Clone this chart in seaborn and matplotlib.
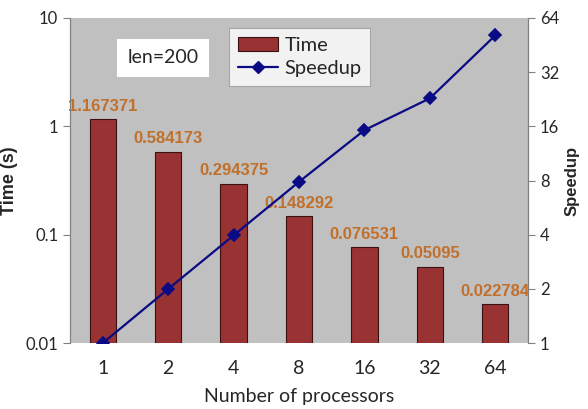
import numpy as np
import pandas as pd
import matplotlib
matplotlib.use("Agg")
import matplotlib.pyplot as plt
import seaborn as sns
from matplotlib.ticker import FixedLocator, FixedFormatter, NullLocator
from matplotlib.lines import Line2D
from matplotlib.patches import Patch

# data
processors = ["1", "2", "4", "8", "16", "32", "64"]
time_s = [1.167371, 0.584173, 0.294375, 0.148292, 0.076531, 0.05095, 0.022784]
speedup = [1.0, 1.998, 3.966, 7.872, 15.25, 22.91, 51.24]
time_labels = ["1.167371", "0.584173", "0.294375", "0.148292", "0.076531", "0.05095", "0.022784"]

df = pd.DataFrame({"proc": processors, "time": time_s, "speedup": speedup})

sns.set_style("white")
plt.rcParams["font.family"] = ["Lato", "DejaVu Sans"]

fig = plt.figure(figsize=(5.88, 4.09), dpi=100)
ax = fig.add_axes([0.119, 0.161, 0.779, 0.795])
ax.set_facecolor("#c0c0c0")
ax.set_yscale("log")

sns.barplot(data=df, x="proc", y="time", order=processors, color="#993333",
            saturation=1, width=0.4, edgecolor="#3a1010", linewidth=0.8, ax=ax)
ax.set_ylim(0.01, 10)
ax.set_xlim(-0.5, 6.5)

for i, (v, lab) in enumerate(zip(time_s, time_labels)):
    ax.annotate(lab, (i, v), xytext=(0, 4), textcoords="offset points",
                ha="center", va="bottom", color="#c0702a", fontsize=12,
                fontweight="bold", family="Liberation Sans")

ax.yaxis.set_major_locator(FixedLocator([0.01, 0.1, 1, 10]))
ax.yaxis.set_major_formatter(FixedFormatter(["0.01", "0.1", "1", "10"]))
ax.yaxis.set_minor_locator(NullLocator())
ax.tick_params(axis="y", which="major", length=5, color="#808080", labelsize=12, left=True)
ax.tick_params(axis="x", length=0, labelsize=14, pad=12)
ax.set_xlabel("Number of processors", fontsize=14, labelpad=8)
ax.set_ylabel("Time (s)", fontsize=13, fontweight="bold", family="Liberation Sans", labelpad=5)

# speedup on the right axis
ax2 = ax.twinx()
sns.pointplot(data=df, x="proc", y="speedup", order=processors, color="#0a0a85",
              markers="D", markersize=6, linewidth=1.6, ax=ax2)
ax2.set_yscale("log", base=2)
ax2.set_ylim(1, 64)
ax2.set_xlim(-0.5, 6.5)
ax2.yaxis.set_major_locator(FixedLocator([1, 2, 4, 8, 16, 32, 64]))
ax2.yaxis.set_major_formatter(FixedFormatter(["1", "2", "4", "8", "16", "32", "64"]))
ax2.yaxis.set_minor_locator(NullLocator())
ax2.tick_params(axis="y", which="major", length=5, color="#808080", labelsize=12, right=True)
ax2.set_ylabel("Speedup", fontsize=12, fontweight="bold", family="Liberation Sans",
               rotation=90, labelpad=4)
ax2.set_xlabel("")

for a in (ax, ax2):
    for s in ["top", "bottom"]:
        a.spines[s].set_visible(False)
    a.spines["left"].set_color("#808080")
    a.spines["right"].set_color("#808080")

# len=200 box
ax.text(0.203, 0.877, "len=200", transform=ax.transAxes, fontsize=14,
        ha="center", va="center",
        bbox=dict(facecolor="white", edgecolor="none", boxstyle="square,pad=0.55"))

handles = [Patch(facecolor="#993333", edgecolor="#3a1010", linewidth=0.8),
           Line2D([], [], color="#0a0a85", marker="D", markersize=6, linewidth=1.6)]
leg = ax2.legend(handles, ["Time", "Speedup"], loc="upper left",
                 bbox_to_anchor=(0.347, 0.969), fontsize=14.5, frameon=True,
                 fancybox=False, handlelength=2.0, handletextpad=0.3,
                 borderpad=0.45, labelspacing=0.3, borderaxespad=0)
leg.get_frame().set_edgecolor("#999999")
leg.get_frame().set_linewidth(0.8)

fig.savefig("out.png", dpi=100)
